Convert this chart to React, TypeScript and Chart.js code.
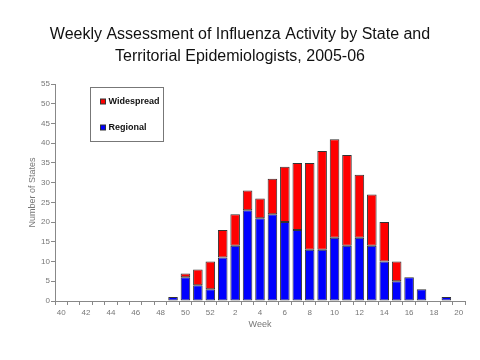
import React, { useEffect, useRef } from "react";
import { Chart, registerables } from "chart.js";

Chart.register(...registerables);

const weeks: string[] = [
  "40", "41", "42", "43", "44", "45", "46", "47", "48", "49", "50", "51", "52",
  "1", "2", "3", "4", "5", "6", "7", "8", "9", "10", "11", "12", "13", "14", "15", "16", "17", "18", "19", "20",
];
const regional: number[] = [
  0, 0, 0, 0, 0, 0, 0, 0, 0, 1, 6, 4, 3,
  11, 14, 23, 21, 22, 20, 18, 13, 13, 16, 14, 16, 14, 10, 5, 6, 3, 0, 1, 0,
];
const widespread: number[] = [
  0, 0, 0, 0, 0, 0, 0, 0, 0, 0, 1, 4, 7,
  7, 8, 5, 5, 9, 14, 17, 22, 25, 25, 23, 16, 13, 10, 5, 0, 0, 0, 0, 0,
];
const titleLines: string[] = [
  "Weekly Assessment of Influenza Activity by State and",
  "Territorial Epidemiologists, 2005-06",
];
const yTitle = "Number of States";
const xTitle = "Week";

const FONT = "'Liberation Sans', Arial, sans-serif";

const legendBoxPlugin = {
  id: "legendBox",
  afterDraw(chart: any) {
    const { ctx, chartArea } = chart;
    const x0 = chartArea.left + 35.5;
    const y0 = chartArea.top + 3.5;
    ctx.save();
    ctx.fillStyle = "#ffffff";
    ctx.strokeStyle = "#777777";
    ctx.lineWidth = 1;
    ctx.fillRect(x0, y0, 73, 54);
    ctx.strokeRect(x0, y0, 73, 54);
    const items = [chart.data.datasets[1], chart.data.datasets[0]];
    const rowY = [y0 + 14, y0 + 40];
    ctx.font = `bold 9px ${FONT}`;
    ctx.textBaseline = "middle";
    items.forEach((ds: any, i: number) => {
      const cy = rowY[i];
      ctx.fillStyle = ds.backgroundColor;
      ctx.fillRect(x0 + 10, cy - 2.5, 5, 5);
      ctx.strokeStyle = "#333";
      ctx.strokeRect(x0 + 10, cy - 2.5, 5, 5);
      ctx.fillStyle = "#111";
      ctx.fillText(ds.label, x0 + 18, cy + 0.5);
    });
    ctx.restore();
  },
};

export default function App() {
  const ref = useRef<HTMLCanvasElement | null>(null);
  useEffect(() => {
    if (!ref.current) return;
    const chart = new Chart(ref.current, {
      type: "bar",
      data: {
        labels: weeks,
        datasets: [
          {
            label: "Regional",
            data: regional,
            backgroundColor: "#0000ff",
            borderColor: "#333333",
            borderWidth: 1,
            borderSkipped: false,
          },
          {
            label: "Widespread",
            data: widespread,
            backgroundColor: "#ff0000",
            borderColor: "#333333",
            borderWidth: 1,
            borderSkipped: false,
          },
        ],
      },
      options: {
        animation: false,
        responsive: false,
        maintainAspectRatio: false,
        layout: { padding: { left: 15, right: 15, top: 0, bottom: 30 } },
        plugins: {
          legend: { display: false },
          tooltip: { enabled: false },
          title: {
            display: true,
            text: titleLines,
            color: "#111111",
            font: { family: FONT, size: 16, weight: "normal", lineHeight: 1.375 },
            padding: { top: 24, bottom: 16 },
          },
        },
        datasets: { bar: { categoryPercentage: 1, barPercentage: 0.77 } },
        scales: {
          x: {
            stacked: true,
            offset: true,
            grid: {
              display: true,
              drawOnChartArea: false,
              offset: true,
              tickLength: 4,
              color: "#888888",
            },
            border: { display: true, color: "#888888", width: 1 },
            ticks: {
              autoSkip: false,
              maxRotation: 0,
              padding: 3,
              color: "#777777",
              font: { family: FONT, size: 8 },
              callback: (_v: any, i: number) => (i % 2 === 0 ? weeks[i] : ""),
            },
            title: {
              display: true,
              text: xTitle,
              color: "#777777",
              font: { family: FONT, size: 9 },
              padding: 0,
            },
            afterFit: (s: any) => {
              s.height = 29;
            },
          },
          y: {
            stacked: true,
            min: 0,
            max: 55,
            grid: {
              display: true,
              drawOnChartArea: false,
              tickLength: 4,
              color: "#888888",
            },
            border: { display: true, color: "#888888", width: 1 },
            ticks: {
              stepSize: 5,
              padding: 1,
              color: "#777777",
              font: { family: FONT, size: 8 },
            },
            title: {
              display: true,
              text: yTitle,
              color: "#777777",
              font: { family: FONT, size: 9 },
              padding: { top: 12, bottom: 0 },
            },
            afterFit: (s: any) => {
              s.width = 40;
            },
          },
        },
      },
      plugins: [legendBoxPlugin],
    });
    return () => chart.destroy();
  }, []);
  return (
    <div style={{ position: "fixed", left: 0, top: 0, width: 480, height: 360, background: "#fff" }}>
      <canvas ref={ref} width={480} height={360} />
    </div>
  );
}
